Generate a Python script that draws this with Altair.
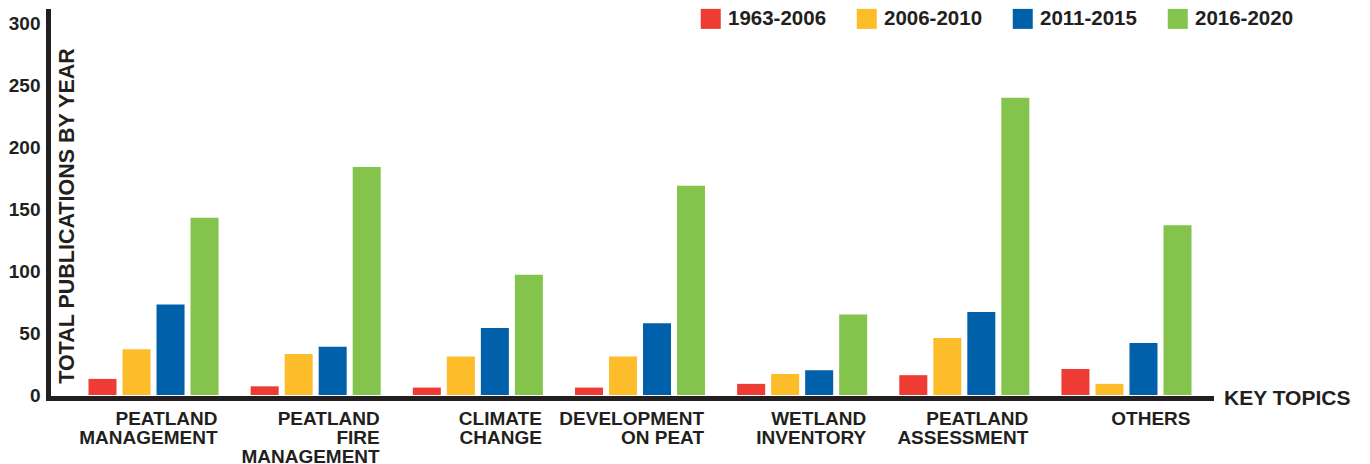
import altair as alt
import pandas as pd

categories = ["PEATLAND|MANAGEMENT", "PEATLAND|FIRE|MANAGEMENT", "CLIMATE|CHANGE",
              "DEVELOPMENT|ON PEAT", "WETLAND|INVENTORY", "PEATLAND|ASSESSMENT", "OTHERS"]
periods = ["1963-2006", "2006-2010", "2011-2015", "2016-2020"]
v_1963_2006 = [13, 7, 6, 6, 9, 16, 21]
v_2006_2010 = [37, 33, 31, 31, 17, 46, 9]
v_2011_2015 = [73, 39, 54, 58, 20, 67, 42]
v_2016_2020 = [143, 184, 97, 169, 65, 240, 137]
colors = ["#EE3B33", "#FDBD2A", "#0061AA", "#84C44C"]
y_ticks = [0, 50, 100, 150, 200, 250, 300]

rows = []
for per, vals in zip(periods, [v_1963_2006, v_2006_2010, v_2011_2015, v_2016_2020]):
    for c, v in zip(categories, vals):
        rows.append({"topic": c, "period": per, "value": v})
df = pd.DataFrame(rows)

FONT = "Liberation Sans, Arial, Helvetica, sans-serif"
INK = "#231F20"
W, H = 1163, 384

chart = alt.Chart(df).mark_bar().encode(
    x=alt.X(
        "topic:N", sort=categories,
        scale=alt.Scale(paddingInner=0.198, paddingOuter=0.185, align=0.675),
        axis=alt.Axis(
            title="KEY TOPICS", labelExpr="split(datum.label, '|')",
            labelAlign="right", labelBaseline="top", labelOffset=64, labelPadding=11,
            labelFontSize=19, labelLineHeight=19, labelFont=FONT, labelFontWeight="bold",
            labelColor=INK, labelAngle=0, labelOverlap=False, labelLimit=400,
            ticks=False, tickSize=0, domainWidth=5, domainColor=INK, domainCap="square",
            offset=3, titleX=1175.5, titleY=6.5, titleAlign="left", titleBaseline="alphabetic",
            titleFontSize=21, titleFont=FONT, titleFontWeight="bold", titleColor=INK,
        ),
    ),
    xOffset=alt.XOffset("period:N", sort=periods,
                        scale=alt.Scale(paddingInner=0.1765, paddingOuter=0)),
    y=alt.Y(
        "value:Q",
        scale=alt.Scale(domain=[0, 310], nice=False, zero=True),
        axis=alt.Axis(
            values=y_ticks, title="TOTAL PUBLICATIONS BY YEAR", grid=False,
            ticks=False, tickSize=0, labelPadding=8, labelFontSize=19, labelFont=FONT,
            labelFontWeight="bold", labelColor=INK, labelOverlap=False,
            domainWidth=5, domainColor=INK, domainCap="square",
            titleX=25.5, titleY=204.5, titleAngle=-90, titleAlign="center",
            titleBaseline="alphabetic", titleFontSize=21.5, titleFont=FONT,
            titleFontWeight="bold", titleColor=INK,
        ),
    ),
    color=alt.Color(
        "period:N", sort=periods,
        scale=alt.Scale(domain=periods, range=colors),
        legend=alt.Legend(
            title=None, orient="none", legendX=652.5, legendY=-2.5, direction="horizontal",
            symbolType="square", symbolSize=400, symbolStrokeWidth=0, symbolOpacity=1,
            labelFontSize=20.5, labelFont=FONT, labelFontWeight="bold", labelColor=INK,
            labelOffset=7, columnPadding=30, padding=0, labelLimit=300,
        ),
    ),
).properties(
    width=W, height=H, padding=0, background="white"
).configure_view(stroke=None)

chart.save("out.html", embed_options={"renderer": "svg", "actions": False})
